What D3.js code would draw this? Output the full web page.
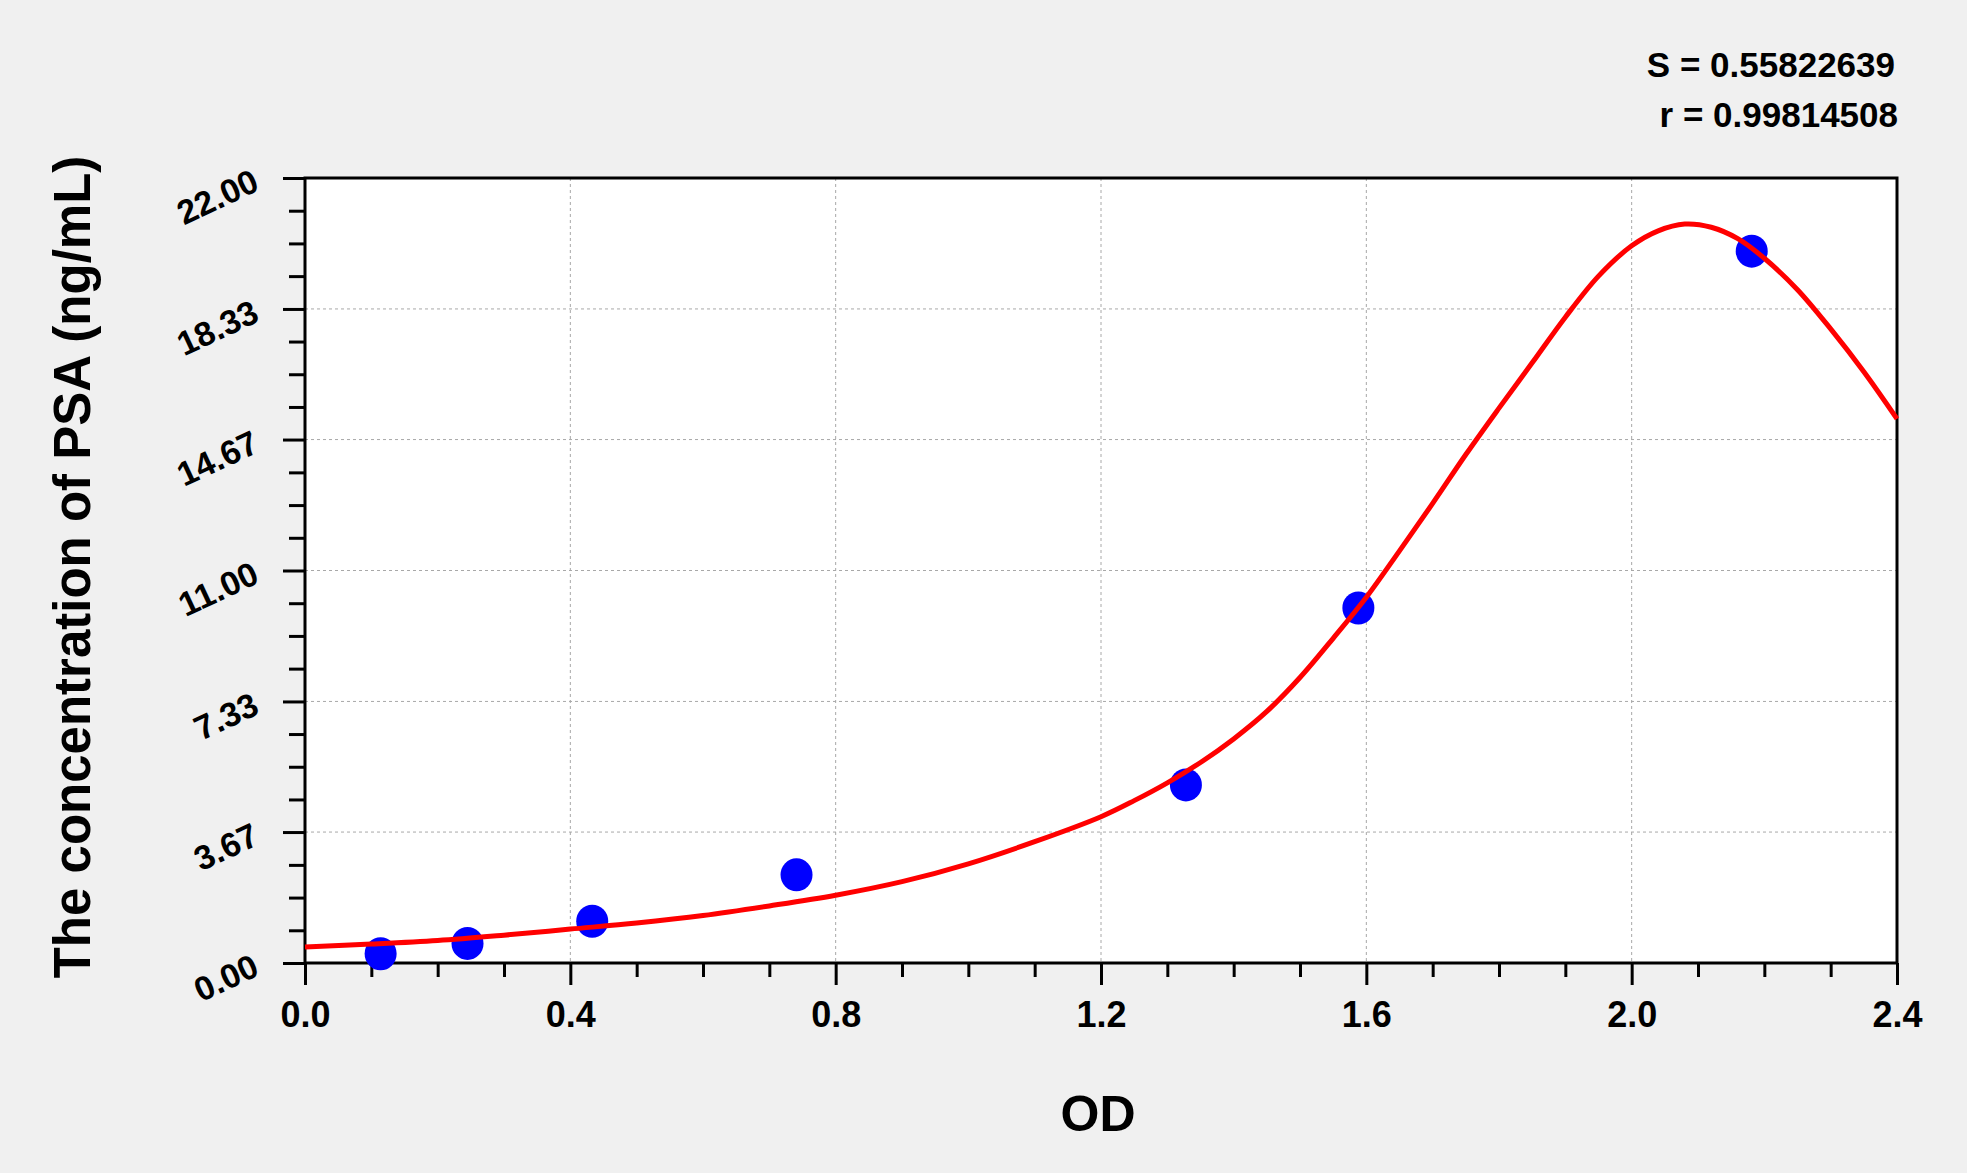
<!DOCTYPE html>
<html>
<head>
<meta charset="utf-8">
<script src="https://cdn.jsdelivr.net/npm/d3@7"></script>
<style>
	html, body { margin: 0; padding: 0; background: #f0f0f0; }
	svg { display: block; font-family: 'Liberation Sans', Arial, sans-serif; font-weight: bold; }
	.grid line { stroke: #a8a8a8; stroke-width: 1; stroke-dasharray: 3,3; }
	.tick-line { stroke: #000; stroke-width: 3; }
	.curve { fill: none; stroke: #ff0000; stroke-width: 5; stroke-linejoin: round; }
	.dot { fill: #0000ff; }
</style>
</head>
<body>
<svg id="chart"></svg>
<script>
/* global d3 */

// standard points (OD vs concentration)
const odValues = [ 0.114, 0.245, 0.433, 0.741, 1.328, 1.588, 2.181 ];
const concValues = [ 0.26, 0.55, 1.17, 2.47, 4.99, 9.95, 19.95 ];

// fitted curve
const curveOd = [ 0.00, 0.10, 0.20, 0.30, 0.40, 0.50, 0.60, 0.70, 0.80, 0.90, 1.00, 1.10, 1.20, 1.25, 1.30, 1.35, 1.40, 1.45, 1.50, 1.55, 1.60, 1.65, 1.70, 1.75, 1.80, 1.85, 1.90, 1.95, 2.00, 2.04, 2.08, 2.12, 2.16, 2.20, 2.25, 2.30, 2.35, 2.40 ];
const curveConc = [ 0.45, 0.53, 0.63, 0.78, 0.95, 1.12, 1.33, 1.60, 1.90, 2.28, 2.78, 3.40, 4.10, 4.55, 5.05, 5.62, 6.28, 7.05, 8.00, 9.10, 10.25, 11.55, 12.88, 14.25, 15.55, 16.82, 18.10, 19.25, 20.10, 20.52, 20.71, 20.62, 20.30, 19.75, 18.87, 17.77, 16.57, 15.25 ];

const xTickValues = [ 0.0, 0.4, 0.8, 1.2, 1.6, 2.0, 2.4 ];
const yTickValues = [ 0, 3.67, 7.33, 11.0, 14.67, 18.33, 22.0 ];
const yTickLabels = [ '0.00', '3.67', '7.33', '11.00', '14.67', '18.33', '22.00' ];
const statLines = [ 'S = 0.55822639', 'r = 0.99814508' ];

const config = {
	width: 1967,
	height: 1173,
	margin: { top: 178, right: 70, bottom: 210, left: 305 },
};

const innerWidth = config.width - config.margin.left - config.margin.right;
const innerHeight = config.height - config.margin.top - config.margin.bottom;

const svg = d3
	.select( '#chart' )
	.attr( 'width', config.width )
	.attr( 'height', config.height );

const g = svg
	.append( 'g' )
	.attr( 'transform', `translate(${ config.margin.left },${ config.margin.top })` );

const xScale = d3.scaleLinear().domain( [ 0, 2.4 ] ).range( [ 0, innerWidth ] );
const yScale = d3.scaleLinear().domain( [ 0, 22 ] ).range( [ innerHeight, 0 ] );

/**
 * Strip the domain path and give tick lines the heavy style.
 *
 * @param {Object} axis - d3 selection of an axis group
 */
const styleAxis = ( axis ) => {
	axis.select( '.domain' ).remove();
	axis.selectAll( 'line' ).attr( 'class', 'tick-line' );
};

// plot background
g.append( 'rect' )
	.attr( 'width', innerWidth )
	.attr( 'height', innerHeight )
	.attr( 'fill', '#fff' );

// dashed grid, inner lines only
const grid = g.append( 'g' ).attr( 'class', 'grid' );
grid.selectAll( '.vx' )
	.data( xTickValues.slice( 1, -1 ) )
	.join( 'line' )
	.attr( 'x1', ( d ) => xScale( d ) )
	.attr( 'x2', ( d ) => xScale( d ) )
	.attr( 'y1', 0 )
	.attr( 'y2', innerHeight );
grid.selectAll( '.hy' )
	.data( yTickValues.slice( 1, -1 ) )
	.join( 'line' )
	.attr( 'x1', 0 )
	.attr( 'x2', innerWidth )
	.attr( 'y1', ( d ) => yScale( d ) )
	.attr( 'y2', ( d ) => yScale( d ) );

// x axis: major every 0.4, minor every 0.1
const xMinor = d3.range( 0, 24 ).filter( ( i ) => i % 4 !== 0 ).map( ( i ) => i / 10 );
g.append( 'g' )
	.attr( 'transform', `translate(0,${ innerHeight })` )
	.call( d3.axisBottom( xScale ).tickValues( xMinor ).tickSize( 14 ).tickFormat( '' ) )
	.call( styleAxis );

g.append( 'g' )
	.attr( 'transform', `translate(0,${ innerHeight })` )
	.call( d3.axisBottom( xScale ).tickValues( xTickValues ).tickSize( 22 ).tickPadding( 16 ).tickFormat( d3.format( '.1f' ) ) )
	.call( styleAxis )
	.call( ( a ) => a.selectAll( 'text' )
		.attr( 'fill', '#000' )
		.style( 'font-size', '36px' )
		.style( 'font-weight', 'bold' )
		.attr( 'dy', '0.71em' ) );

// y axis: major every 22/6, three minor ticks between
const yMinor = d3.range( 0, 24 ).filter( ( i ) => i % 4 !== 0 ).map( ( i ) => i * 22 / 24 );
g.append( 'g' )
	.call( d3.axisLeft( yScale ).tickValues( yMinor ).tickSize( 16 ).tickFormat( '' ) )
	.call( styleAxis );

const yAxis = g.append( 'g' )
	.call( d3.axisLeft( yScale ).tickValues( yTickValues ).tickSize( 22 ).tickFormat( ( d, i ) => yTickLabels[ i ] ) )
	.call( styleAxis );

yAxis.selectAll( 'text' )
	.attr( 'fill', '#000' )
	.style( 'font-size', '34px' )
	.style( 'font-weight', 'bold' )
	.attr( 'text-anchor', 'end' )
	.attr( 'x', null )
	.attr( 'dy', null )
	.attr( 'transform', 'translate(-44,11) rotate(-25)' );

// frame
g.append( 'rect' )
	.attr( 'width', innerWidth )
	.attr( 'height', innerHeight )
	.attr( 'fill', 'none' )
	.attr( 'stroke', '#000' )
	.attr( 'stroke-width', 3 );

// standard points, curve drawn on top
g.selectAll( '.dot' )
	.data( odValues )
	.join( 'ellipse' )
	.attr( 'class', 'dot' )
	.attr( 'cx', ( d ) => xScale( d ) )
	.attr( 'cy', ( d, i ) => yScale( concValues[ i ] ) )
	.attr( 'rx', 16 )
	.attr( 'ry', 16.5 );

const line = d3.line()
	.x( ( d ) => xScale( d ) )
	.y( ( d, i ) => yScale( curveConc[ i ] ) )
	.curve( d3.curveCatmullRom.alpha( 0.5 ) );

g.append( 'path' )
	.datum( curveOd )
	.attr( 'class', 'curve' )
	.attr( 'd', line );

// axis titles
svg.append( 'text' )
	.attr( 'x', 1098 )
	.attr( 'y', 1131 )
	.attr( 'text-anchor', 'middle' )
	.style( 'font-size', '50px' )
	.text( 'OD' );

svg.append( 'text' )
	.attr( 'transform', 'translate(90,567) rotate(-90)' )
	.attr( 'text-anchor', 'middle' )
	.style( 'font-size', '51px' )
	.text( 'The concentration of PSA (ng/mL)' );

// fit statistics
svg.selectAll( '.stat' )
	.data( statLines )
	.join( 'text' )
	.attr( 'class', 'stat' )
	.attr( 'x', ( d, i ) => ( i === 0 ? 1895 : 1898 ) )
	.attr( 'y', ( d, i ) => 77 + i * 50 )
	.attr( 'text-anchor', 'end' )
	.style( 'font-size', '35px' )
	.text( ( d ) => d );
</script>
</body>
</html>
